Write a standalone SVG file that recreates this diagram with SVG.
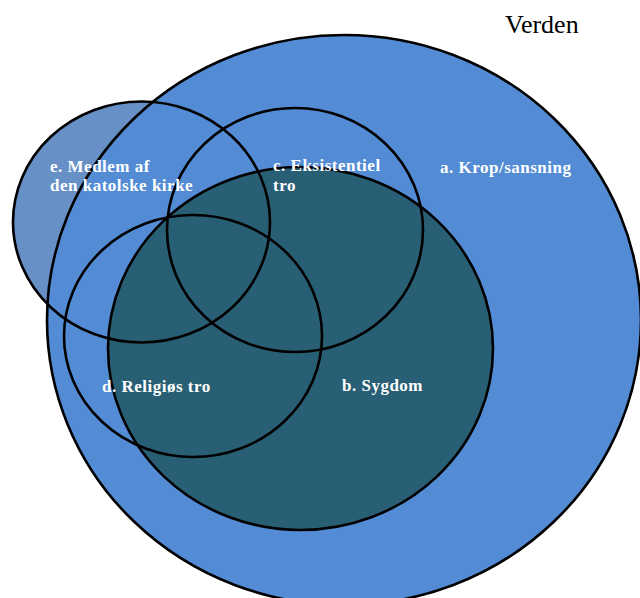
<svg xmlns="http://www.w3.org/2000/svg" width="640" height="598" viewBox="0 0 640 598">
<style>
.ol{fill:none;stroke:#000;stroke-width:2.6}
.lb{font-family:"Liberation Serif","Times New Roman",serif;font-weight:bold;font-size:17px;fill:#fff;letter-spacing:0.5px}
.title{font-family:"Liberation Serif","Times New Roman",serif;font-size:26px;fill:#000}
</style>
<rect width="640" height="598" fill="#fff"/>
<g id="e-fill"><ellipse cx="141.5" cy="222" rx="128.5" ry="120.5" fill="#6790C6"/></g>
<g id="a-krop">
<ellipse cx="344" cy="320" rx="297" ry="285" fill="#538CD5" stroke="#000" stroke-width="2.6"/>
<text class="lb" x="440" y="172.5">a. Krop/sansning</text>
</g>
<g id="b-sygdom">
<ellipse cx="300.5" cy="348.5" rx="192.5" ry="181.5" fill="#295F75" stroke="#000" stroke-width="2.6"/>
<text class="lb" x="342" y="390.5">b. Sygdom</text>
</g>
<g id="c-eksistentiel">
<ellipse class="ol" cx="295" cy="230" rx="128" ry="122"/>
<text class="lb" x="273" y="171">c. Eksistentiel</text>
<text class="lb" x="273" y="191">tro</text>
</g>
<g id="d-religios">
<ellipse class="ol" cx="193" cy="336" rx="129" ry="121"/>
<text class="lb" x="102" y="391.5">d. Religiøs tro</text>
</g>
<g id="e-medlem">
<ellipse class="ol" cx="141.5" cy="222" rx="128.5" ry="120.5"/>
<text class="lb" x="50" y="171.5">e. Medlem af</text>
<text class="lb" x="50" y="191">den katolske kirke</text>
</g>
<g id="verden"><text class="title" x="505" y="33">Verden</text></g>
<g id="connectors"/>
</svg>
